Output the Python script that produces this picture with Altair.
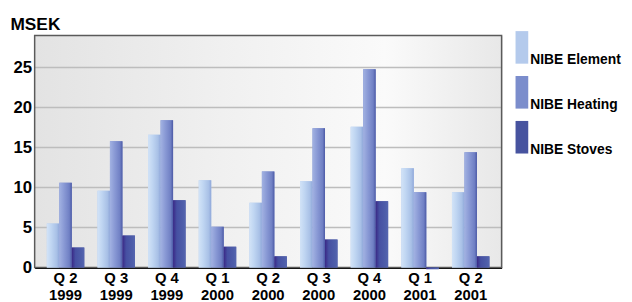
import altair as alt
import pandas as pd

quarters = ["Q 2 1999", "Q 3 1999", "Q 4 1999", "Q 1 2000", "Q 2 2000",
            "Q 3 2000", "Q 4 2000", "Q 1 2001", "Q 2 2001"]
series = ["NIBE Element", "NIBE Heating", "NIBE Stoves"]
element = [5.5, 9.6, 16.6, 10.9, 8.1, 10.8, 17.6, 12.4, 9.4]
heating = [10.6, 15.8, 18.4, 5.1, 12.0, 17.4, 24.8, 9.4, 14.4]
stoves = [2.5, 4.0, 8.4, 2.6, 1.4, 3.5, 8.3, -0.2, 1.4]
y_ticks = [0, 5, 10, 15, 20, 25]
grid_values = [5, 10, 15, 20, 25]

colors = ["#b4caec", "#7b8dcc", "#47539f"]
gradients = {
    "NIBE Element": [("#d2e3f7", 0), ("#c0d6f2", 0.35), ("#a8c0e6", 0.8), ("#90a8da", 1)],
    "NIBE Heating": [("#a2b2e2", 0), ("#8898d4", 0.4), ("#7080c4", 0.8), ("#4c5aa6", 1)],
    "NIBE Stoves": [("#3a2886", 0), ("#4650a2", 0.3), ("#4e5eaa", 0.8), ("#5666b0", 1)],
}

rows = []
for i, q in enumerate(quarters):
    for s, vals in zip(series, [element, heating, stoves]):
        rows.append({"quarter": q, "series": s, "value": vals[i]})
df = pd.DataFrame(rows)

FONT = "Liberation Sans"
W, H = 473, 235

x_enc = alt.X("quarter:N", sort=quarters,
              scale=alt.Scale(paddingInner=0.26, paddingOuter=0.24),
              axis=alt.Axis(title=None, labelAngle=0, ticks=False,
                            labelExpr="[slice(datum.label,0,3), slice(datum.label,4)]",
                            labelFont=FONT, labelFontSize=15, labelFontWeight="bold",
                            labelColor="#000", labelPadding=3, labelLineHeight=17,
                            domainColor="#000", domainWidth=2, grid=False,
                            labelBaseline="top"))
xo_enc = alt.XOffset("series:N", sort=series,
                     scale=alt.Scale(domain=series, paddingInner=0, paddingOuter=0))
y_scale = alt.Scale(domain=[0, 29], nice=False)
y_axis = alt.Axis(values=y_ticks, title="MSEK", titleAngle=0, titleAlign="left",
                  titleBaseline="alphabetic", titleX=-25, titleY=-6,
                  titleFont=FONT, titleFontSize=17.5, titleFontWeight="bold",
                  titleColor="#000",
                  labelFont=FONT, labelFontSize=17, labelFontWeight="bold",
                  labelColor="#000", labelPadding=3, ticks=False,
                  domainColor="#666", domainWidth=1.5, grid=False)
y_enc = alt.Y("value:Q", scale=y_scale, axis=y_axis)

bg = alt.Chart(pd.DataFrame({"a": [0]})).mark_rect(
    color=alt.Gradient(gradient="linear", x1=0, x2=1, y1=0, y2=0,
                       stops=[alt.GradientStop(color="#e3e3e3", offset=0),
                              alt.GradientStop(color="#f0f0f0", offset=0.4),
                              alt.GradientStop(color="#fafafa", offset=0.75),
                              alt.GradientStop(color="#e8e8e8", offset=1)])
).encode(x=alt.value(0), x2=alt.value(W), y=alt.value(0), y2=alt.value(H))

grid = alt.Chart(pd.DataFrame({"value": grid_values})).mark_rule(
    color="#bdbdbd", strokeWidth=1.5
).encode(y=y_enc)

border = alt.Chart(pd.DataFrame({"a": [0]})).mark_rect(
    fillOpacity=0, stroke="#5a5a5a", strokeWidth=1.5
).encode(x=alt.value(0), x2=alt.value(W), y=alt.value(0), y2=alt.value(H))

base = alt.Chart(df).mark_bar(clip=False).encode(
    x=x_enc, xOffset=xo_enc, y=y_enc,
    color=alt.Color("series:N", sort=series,
                    scale=alt.Scale(domain=series, range=colors),
                    legend=alt.Legend(title=None, orient="none", legendX=467, legendY=12,
                                      symbolType="M0.22,-2 H1 V0 H0.22 Z",
                                      symbolSize=1089, symbolStrokeWidth=0,
                                      labelFont=FONT, labelFontSize=14, labelFontWeight="bold",
                                      labelColor="#000", labelBaseline="alphabetic",
                                      labelOffset=2, rowPadding=8.5, padding=0,
                                      labelLimit=200))
)

overlays = []
for s in series:
    overlays.append(
        alt.Chart(df).transform_filter(alt.datum.series == s).mark_bar(
            clip=False,
            color=alt.Gradient(gradient="linear", x1=0, x2=1, y1=0, y2=0,
                               stops=[alt.GradientStop(color=c, offset=o) for c, o in gradients[s]])
        ).encode(x=x_enc, xOffset=xo_enc, y=y_enc)
    )

chart = alt.layer(bg, grid, border, base, *overlays).properties(
    width=W, height=H,
    autosize=alt.AutoSizeParams(type="none"),
    padding={"left": 27, "top": 26, "right": 124, "bottom": 33},
).configure_view(stroke=None).configure(background="white")

chart.save("out.html", embed_options={"renderer": "svg", "actions": False})
